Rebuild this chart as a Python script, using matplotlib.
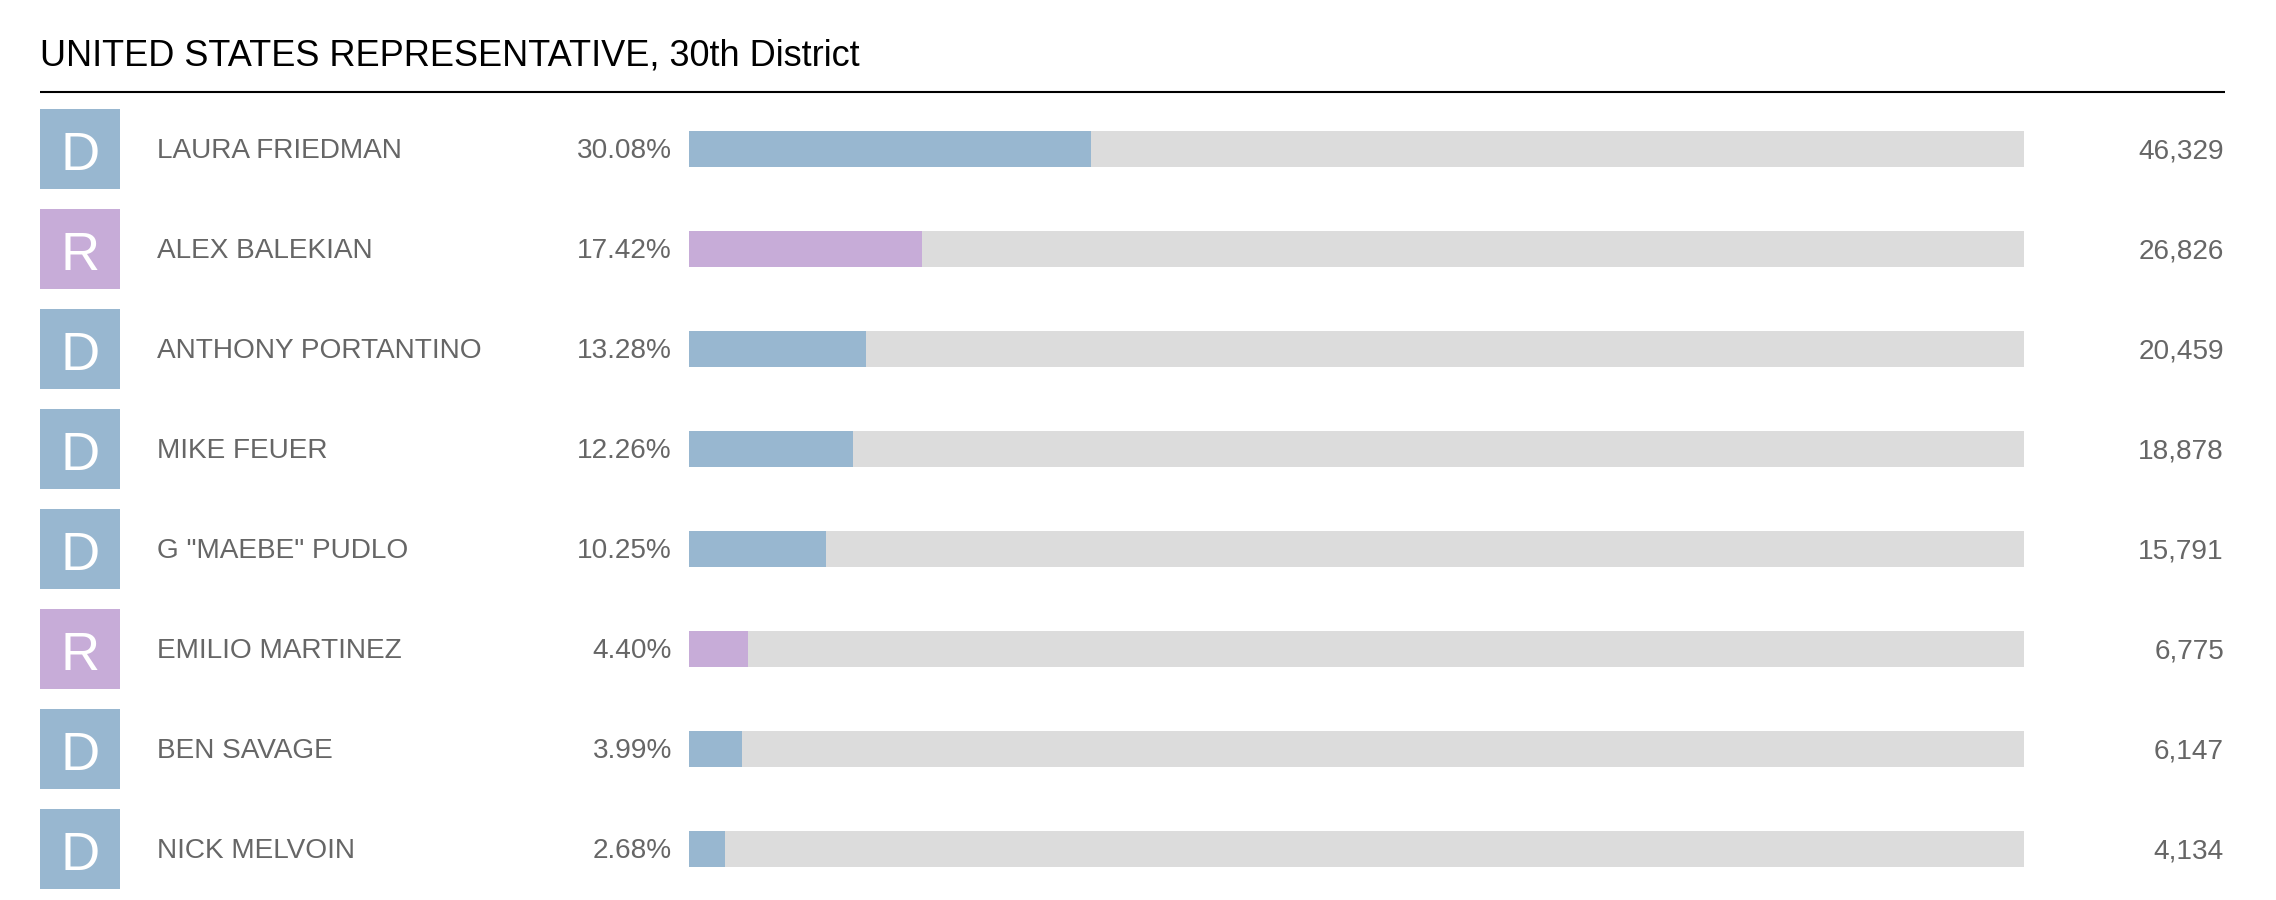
import matplotlib
matplotlib.use("Agg")
import matplotlib.pyplot as plt

plt.rcParams['font.family'] = ['Liberation Sans', 'DejaVu Sans']

title = "UNITED STATES REPRESENTATIVE, 30th District"
names = ["LAURA FRIEDMAN", "ALEX BALEKIAN", "ANTHONY PORTANTINO", "MIKE FEUER",
         'G "MAEBE" PUDLO', "EMILIO MARTINEZ", "BEN SAVAGE", "NICK MELVOIN"]
parties = ["D", "R", "D", "D", "D", "R", "D", "D"]
pcts = [30.08, 17.42, 13.28, 12.26, 10.25, 4.40, 3.99, 2.68]
votes = [46329, 26826, 20459, 18878, 15791, 6775, 6147, 4134]

party_colors = {"D": "#98b7d0", "R": "#c7acd8"}
track_color = "#dcdcdc"
text_gray = "#666666"

W, H = 2276, 900
fig = plt.figure(figsize=(W / 100, H / 100), dpi=100)

# full figure axes in pixel units
ax = fig.add_axes([0, 0, 1, 1])
ax.set_xlim(0, W)
ax.set_ylim(H, 0)
ax.axis("off")

# bar area axes, 0-100 percent
bar_left, bar_right = 689, 2024
bx = fig.add_axes([bar_left / W, 0, (bar_right - bar_left) / W, 1])
bx.set_xlim(0, 100)
bx.set_ylim(H, 0)
bx.axis("off")

first_row = 149
row_step = 100
rows = [first_row + i * row_step for i in range(len(names))]
colors = [party_colors[p] for p in parties]

# title and rule
ax.text(40, 66, title, fontsize=26, color="black", va="baseline", ha="left")
ax.plot([40, 2225], [92, 92], color="black", linewidth=1.5, solid_capstyle="butt")

# party boxes
ax.barh(rows, 80, left=40, height=80, color=colors)

# bars
bx.barh(rows, 100, height=36, color=track_color)
bx.barh(rows, pcts, height=36, color=colors)

fs = 20.2
for y, name, p, pct, v in zip(rows, names, parties, pcts, votes):
    ax.text(80, y + 21, p, fontsize=39, color="white", ha="center", va="baseline")
    ax.text(157, y + 9.5, name, fontsize=fs, color=text_gray, ha="left", va="baseline")
    ax.text(672, y + 9.5, "%.2f%%" % pct, fontsize=fs, color=text_gray,
            ha="right", va="baseline")
    ax.text(2224, y + 9.5, "{:,}".format(v), fontsize=fs, color=text_gray,
            ha="right", va="baseline")

fig.savefig("out.png", dpi=100, facecolor="white")
